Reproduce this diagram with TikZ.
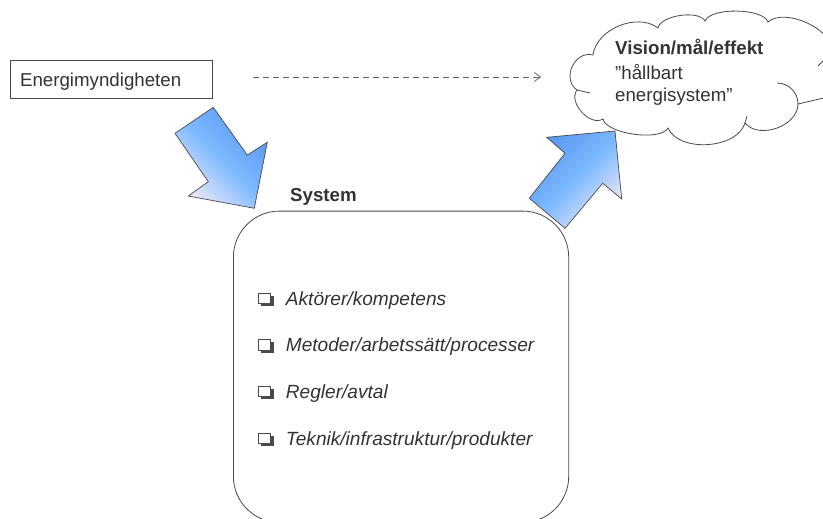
\documentclass[tikz,border=0pt]{standalone}
\usepackage{fontspec}
\setmainfont{Liberation Sans}
\usetikzlibrary{arrows.meta}
\definecolor{linec}{HTML}{4A4A4A}
\definecolor{txtc}{HTML}{333333}
\definecolor{dashc}{HTML}{666666}
\definecolor{blueA}{HTML}{5898F0}
\definecolor{blueB}{HTML}{7CB9FF}
\definecolor{lav}{HTML}{EEE8F6}
\begin{document}
\begin{tikzpicture}[x=1pt,y=-1pt,
  txt/.style={font=\fontsize{18.7}{22.5}\selectfont, text=txtc, inner sep=0pt, anchor=base west},
  boldtxt/.style={txt, font=\fontsize{18.7}{22.5}\selectfont\bfseries},
  itemtxt/.style={txt, font=\fontsize{19.1}{22.5}\selectfont\itshape},
  outline/.style={draw=linec, line width=0.8pt},
  blockarrow/.style={draw=linec, line width=0.7pt},
  chk/.pic={
    \fill[linec] (2.5,2.5) rectangle (15,13);
    \filldraw[fill=white, draw=linec, line width=1pt] (0,0) rectangle (12,10.5);
  }]
\path[use as bounding box] (0,0) rectangle (823,519);
\clip (0,0) rectangle (823,519);

% Energimyndigheten box
\node[outline, txt, anchor=base west, inner xsep=9.7pt, inner ysep=0pt,
      text height=26.2pt, text depth=11.5pt, text width=182.6pt, align=left]
      (energi) at (10,87) {Energimyndigheten};

% dashed arrow
\coordinate (ds) at (253,77);
\coordinate (de) at (541,77);
\draw[dashc, line width=0.8pt, dash pattern=on 6pt off 4pt,
      -{Straight Barb[length=6pt,width=9pt]}] (ds) -- (de);

% System box
\node[outline, rounded corners=46pt, minimum width=335.3pt, minimum height=311.3pt,
      anchor=north west, inner sep=0pt] (sys) at (233,210.7) {};
\node[boldtxt] (syslbl) at (290,201.7) {System};

% items
\pic at (258.5,293) {chk};
\pic at (258.5,339.7) {chk};
\pic at (258.5,386) {chk};
\pic at (258.5,433) {chk};
\node[itemtxt] (it1) at (285.7,305) {Aktörer/kompetens};
\node[itemtxt] (it2) at (285.7,351.7) {Metoder/arbetssätt/processer};
\node[itemtxt] (it3) at (285.7,398) {Regler/avtal};
\node[itemtxt] (it4) at (285.7,445) {Teknik/infrastruktur/produkter};

% cloud
\draw[outline, fill=white]
  (577,90) to[bend left=80, looseness=1.27] (593,55)
  to[bend left=60, looseness=0.95] (658,28)
  to[bend left=70, looseness=0.7] (705,21)
  to[bend left=70, looseness=0.6] (768,22)
  to[bend left=65, looseness=0.8] (832,50)
  -- (832,96) -- (798,104)
  to[bend left=70, looseness=1.0] (745,123)
  to[bend left=70, looseness=0.9] (668,128)
  to[bend left=70, looseness=0.6] (603,119)
  to[bend left=80, looseness=1.0] (577,90)
  -- cycle;
\draw[outline] (777,83) to[bend left=45] (798,104);
\draw[outline] (577,90) -- (590,93);
\draw[outline] (745,123) -- (747,116);
\draw[outline] (818,66) -- (824,60);
\node[boldtxt] (v1) at (615,55) {Vision/mål/effekt};
\node[txt] (v2) at (615,80) {”hållbart};
\node[txt] (v3) at (615,101.5) {energisystem”};

% block arrows
\shadedraw[blockarrow, top color=blueA, bottom color=lav, middle color=blueB, shading angle=-45]
  (175,133.3) -- (213.3,107.3) -- (247.3,155) -- (267.3,142.3) -- (254.3,208.3)
  -- (188.3,196) -- (208.3,181.7) -- cycle;
\shadedraw[blockarrow, top color=blueA, bottom color=lav, middle color=blueB, shading angle=45]
  (546.7,137.3) -- (615,131) -- (621.7,199) -- (602.7,183.3) -- (565,228.3)
  -- (529.3,198.3) -- (565,153.3) -- cycle;
\end{tikzpicture}
\end{document}
